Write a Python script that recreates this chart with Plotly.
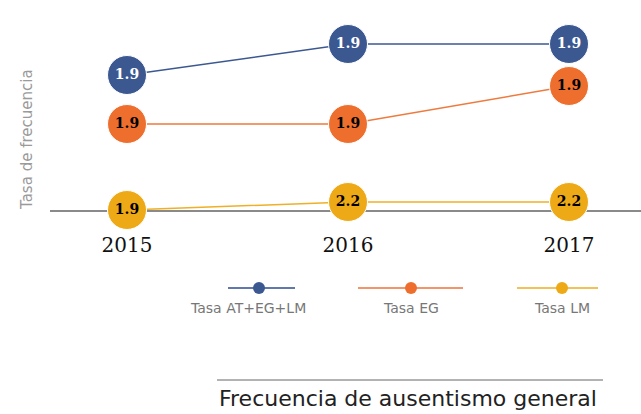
import plotly.graph_objects as go

years = [2015, 2016, 2017]
series_names = ["Tasa AT+EG+LM", "Tasa EG", "Tasa LM"]
# plotted heights and printed labels
vals_total = [13.5, 16.6, 16.6]
vals_eg = [8.6, 8.6, 12.4]
vals_lm = [0.0, 0.8, 0.8]
labels_total = ["1.9", "1.9", "1.9"]
labels_eg = ["1.9", "1.9", "1.9"]
labels_lm = ["1.9", "2.2", "2.2"]

marker_colors = ["#3c5891", "#ee6f2d", "#eea916"]
line_colors = ["#3c5891", "#ef7a3e", "#efb028"]
legend_line_colors = ["#6178aa", "#f2956a", "#f2c157"]
text_colors = ["white", "black", "black"]

W, H = 641, 414
L, R, T, B = 50, 0, 10, 204
PW, PH = W - L - R, H - T - B

def px(x):
    return (x - L) / PW

def py(y):
    return (H - B - y) / PH

fig = go.Figure()
for name, v, lab, mc, lc, tc in zip(series_names, [vals_total, vals_eg, vals_lm],
                                    [labels_total, labels_eg, labels_lm],
                                    marker_colors, line_colors, text_colors):
    fig.add_trace(go.Scatter(
        x=years, y=v, name=name, mode="lines+markers+text",
        text=lab, textposition="middle center",
        textfont=dict(family="DejaVu Serif", size=14, color=tc, weight="bold"),
        line=dict(color=lc, width=1.5),
        marker=dict(size=39, color=mc, line=dict(color="white", width=1)),
        cliponaxis=False, showlegend=False,
    ))

shapes = []
annotations = []
# legend
leg = [(228, 295, 259, 248), (358, 463, 411, 411), (517, 598, 562, 562)]
for (x0, x1, xm, xt), name, lc, mc in zip(leg, series_names, legend_line_colors, marker_colors):
    shapes.append(dict(type="line", xref="paper", yref="paper", x0=px(x0), x1=px(x1),
                       y0=py(288), y1=py(288), line=dict(color=lc, width=2)))
    shapes.append(dict(type="circle", xref="paper", yref="paper", x0=px(xm - 6), x1=px(xm + 6),
                       y0=py(294), y1=py(282), fillcolor=mc, line=dict(width=0)))
    annotations.append(dict(text=name, xref="paper", yref="paper", x=px(xt), y=py(308),
                            showarrow=False, xanchor="center", yanchor="middle",
                            font=dict(family="DejaVu Sans", size=14, color="#777777")))

# y axis title
annotations.append(dict(text="Tasa de frecuencia", xref="paper", yref="paper", x=px(27), y=py(140),
                        textangle=-90, showarrow=False, xanchor="center", yanchor="middle",
                        font=dict(family="DejaVu Sans", size=15, color="#9a9a9a")))
# bottom title
shapes.append(dict(type="line", xref="paper", yref="paper", x0=px(217), x1=px(603),
                   y0=py(380), y1=py(380), line=dict(color="#666666", width=1)))
annotations.append(dict(text="Frecuencia de ausentismo general", xref="paper", yref="paper",
                        x=px(217), y=py(398), showarrow=False, xanchor="left", yanchor="middle",
                        font=dict(family="DejaVu Sans", size=22, color="#222222")))

x_at = lambda p: 2015 + (p - 127) / 221.0
fig.update_layout(
    width=W, height=H, margin=dict(l=L, r=R, t=T, b=B),
    paper_bgcolor="white", plot_bgcolor="white",
    shapes=shapes, annotations=annotations,
    xaxis=dict(range=[x_at(L), x_at(W)], tickvals=years, ticktext=[str(y) for y in years],
               showgrid=False, zeroline=False, showline=True, linecolor="#8a8a8a", linewidth=1.5,
               ticks="", ticklabelstandoff=16, layer="below traces",
               tickfont=dict(family="DejaVu Serif", size=20, color="#111111")),
    yaxis=dict(range=[0, 20], visible=False, showgrid=False, zeroline=False),
)
fig.write_html("out.html", config={"displayModeBar": False},
               post_script="document.body.style.margin='0';document.body.style.overflow='hidden';")
